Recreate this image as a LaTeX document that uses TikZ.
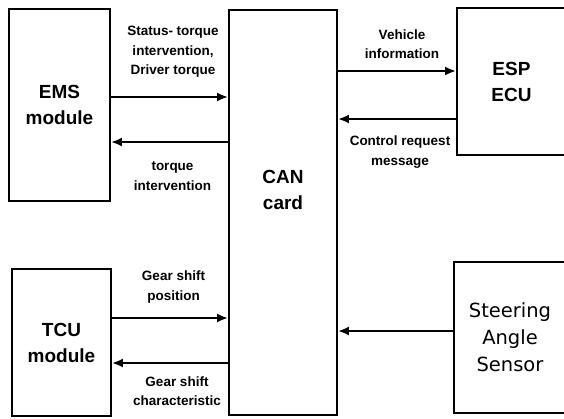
\documentclass[tikz,border=0pt]{standalone}
\usepackage{fontspec}
\setmainfont{Liberation Sans}
\newfontfamily\sensorfont{DejaVu Sans}
\usetikzlibrary{arrows.meta}

\begin{document}
\begin{tikzpicture}[x=1pt, y=-1pt, line cap=round,
  box/.style={draw, line width=1.8pt, inner sep=0pt, align=center,
    font=\fontsize{19}{26}\selectfont\bfseries},
  sig/.style={line width=2.8pt, line cap=butt, -{Latex[length=11pt, width=9pt]}},
  lbl/.style={align=center, inner sep=0pt,
    font=\fontsize{13.5}{19.5}\selectfont\bfseries}]
  \useasboundingbox (0,0) rectangle (564,418);
  \clip (0,0) rectangle (564,418);
  % Modules on the left.
  \node[box, minimum width=101pt, minimum height=192pt] (ems) at (59.5,105) {EMS\\module};
  \node[box, minimum width=99pt, minimum height=147pt] (tcu) at (61.5,342.5) {TCU\\module};
  % CAN card in the middle (text sits above centre).
  \node[box, minimum width=108pt, minimum height=405pt] (can) at (283,212.5) {};
  \node[box, draw=none] (cantxt) at (283,190) {CAN\\card};
  % Units on the right, cut off by the page edge.
  \node[box, minimum width=109pt, minimum height=147pt] (esp) at (511.5,81.5) {ESP\\ECU};
  \node[box, minimum width=112pt, minimum height=151pt,
    font=\sensorfont\fontsize{19.5}{27}\selectfont] (sas) at (510,337.5) {Steering\\Angle\\Sensor};
  % Signals.
  \draw[sig] (ems.east |- 0,97) -- (can.west |- 0,97);
  \draw[sig] (can.west |- 0,142) -- (ems.east |- 0,142);
  \draw[sig] (can.east |- 0,71) -- (esp.west |- 0,71);
  \draw[sig] (esp.west |- 0,119) -- (can.east |- 0,119);
  \draw[sig] (tcu.east |- 0,318) -- (can.west |- 0,318);
  \draw[sig] (can.west |- 0,363) -- (tcu.east |- 0,363);
  \draw[sig] (sas.west |- 0,331) -- (can.east |- 0,331);
  % Signal names.
  \node[lbl] (emsout) at (173,52) {Status- torque\\intervention,\\Driver torque};
  \node[lbl] (emsin) at (172.5,176) {torque\\intervention};
  \node[lbl] (espin) at (402,44) {Vehicle\\information};
  \node[lbl] (espout) at (400,152) {Control request\\message};
  \node[lbl] (tcuout) at (173.5,287) {Gear shift\\position};
  \node[lbl] (tcuin) at (177,391) {Gear shift\\characteristic};
\end{tikzpicture}
\end{document}
